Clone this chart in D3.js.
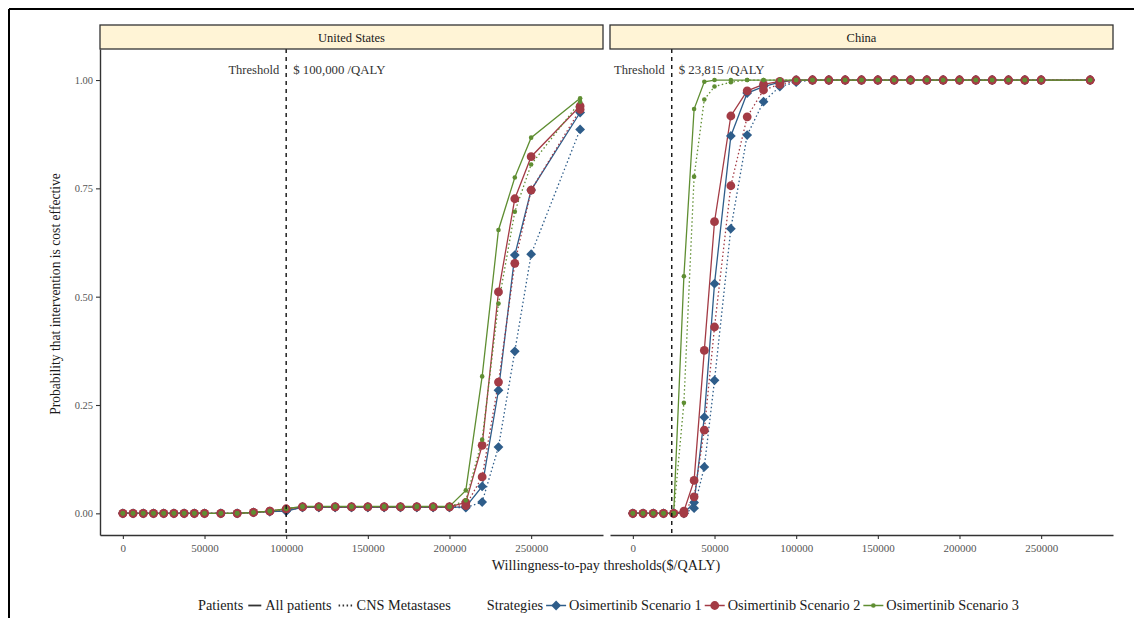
<!DOCTYPE html>
<html>
<head>
<meta charset="utf-8">
<script src="https://cdn.jsdelivr.net/npm/d3@7"></script>
<style>
body { margin: 0; background: #fff; }
svg { display: block; }
text { font-family: "Liberation Serif", "Times New Roman", serif; }
</style>
</head>
<body>
<svg id="chart" width="1134" height="618"></svg>
<script>
// willingness-to-pay grid ($/QALY)
var wtp = [0, 6250, 12500, 18750, 25000, 31250, 37500, 43750, 50000, 60000, 70000, 80000, 90000, 100000,
  110000, 120000, 130000, 140000, 150000, 160000, 170000, 180000, 190000, 200000,
  210000, 220000, 230000, 240000, 250000, 280000];
var xTicks = [0, 50000, 100000, 150000, 200000, 250000];
var yTicks = [0, 0.25, 0.5, 0.75, 1];

var countries = ["United States", "China"];
var thresholds = [100000, 23815];
var thresholdLabels = ["$ 100,000 /QALY", "$ 23,815 /QALY"];
var strategies = ["Osimertinib Scenario 1", "Osimertinib Scenario 2", "Osimertinib Scenario 3"];
var patients = ["All patients", "CNS Metastases"];

// United States
var usS1All = [0,0,0,0,0,0,0,0,0,0,0,0.002,0.004,0.005,0.014,0.014,0.014,0.014,0.014,0.014,0.014,0.014,0.014,0.014,0.015,0.062,0.284,0.596,0.746,0.925];
var usS1Cns = [0,0,0,0,0,0,0,0,0,0,0,0.002,0.004,0.006,0.014,0.014,0.014,0.014,0.014,0.014,0.014,0.014,0.014,0.014,0.013,0.026,0.153,0.374,0.598,0.886];
var usS2All = [0,0,0,0,0,0,0,0,0,0,0,0.002,0.005,0.010,0.015,0.015,0.015,0.015,0.015,0.015,0.015,0.015,0.015,0.015,0.025,0.157,0.511,0.726,0.823,0.940];
var usS2Cns = [0,0,0,0,0,0,0,0,0,0,0,0.002,0.005,0.010,0.015,0.015,0.015,0.015,0.015,0.015,0.015,0.015,0.015,0.015,0.018,0.084,0.303,0.577,0.746,0.932];
var usS3All = [0,0,0,0,0,0,0,0,0,0,0,0.002,0.005,0.011,0.016,0.016,0.016,0.016,0.016,0.016,0.016,0.016,0.016,0.016,0.053,0.316,0.654,0.775,0.867,0.958];
var usS3Cns = [0,0,0,0,0,0,0,0,0,0,0,0.002,0.005,0.010,0.015,0.015,0.015,0.015,0.015,0.015,0.015,0.015,0.015,0.015,0.030,0.170,0.484,0.696,0.805,0.950];

// China
var cnS1All = [0,0,0,0,0,0,0.025,0.222,0.530,0.871,0.970,0.985,0.995,1,1,1,1,1,1,1,1,1,1,1,1,1,1,1,1,1];
var cnS1Cns = [0,0,0,0,0,0,0.012,0.107,0.307,0.657,0.873,0.950,0.985,0.995,1,1,1,1,1,1,1,1,1,1,1,1,1,1,1,1];
var cnS2All = [0,0,0,0,0,0.005,0.076,0.376,0.673,0.917,0.975,0.990,0.997,1,1,1,1,1,1,1,1,1,1,1,1,1,1,1,1,1];
var cnS2Cns = [0,0,0,0,0,0,0.038,0.192,0.430,0.756,0.915,0.977,0.990,0.998,1,1,1,1,1,1,1,1,1,1,1,1,1,1,1,1];
var cnS3All = [0,0,0,0,0,0.547,0.933,0.996,1,1,1,1,1,1,1,1,1,1,1,1,1,1,1,1,1,1,1,1,1,1];
var cnS3Cns = [0,0,0,0,0,0.255,0.777,0.955,0.985,0.995,1,1,1,1,1,1,1,1,1,1,1,1,1,1,1,1,1,1,1,1];

var seriesByCountry = [
  [[usS1All, usS1Cns], [usS2All, usS2Cns], [usS3All, usS3Cns]],
  [[cnS1All, cnS1Cns], [cnS2All, cnS2Cns], [cnS3All, cnS3Cns]]
];

var colors = ["#2E5D8A", "#A33B45", "#5F8E32"];
var dashes = [null, "1.5,2.5"];

var svg = d3.select("#chart");
var panelLeft = [100, 610], panelW = 503;
var stripTop = 25, panelTop = 49, panelBottom = 535;

// outer frame (only top and left visible)
svg.append("line").attr("x1", 9).attr("x2", 1134).attr("y1", 9).attr("y2", 9)
  .attr("stroke", "#000").attr("stroke-width", 2);
svg.append("line").attr("x1", 9).attr("x2", 9).attr("y1", 9).attr("y2", 618)
  .attr("stroke", "#000").attr("stroke-width", 2);

var x = d3.scaleLinear().domain([-14000, 294000]).range([0, panelW]);
var y = d3.scaleLinear().domain([-0.05, 1.0716]).range([panelBottom - panelTop, 0]);

function diamond(r) {
  return "M0," + (-r) + "L" + r + ",0L0," + r + "L" + (-r) + ",0Z";
}
function drawMarker(g, si) {
  if (si === 0) {
    g.append("path").attr("d", diamond(4.9)).attr("fill", colors[0]);
  } else if (si === 1) {
    g.append("circle").attr("r", 4.4).attr("fill", colors[1]);
  } else {
    g.append("circle").attr("r", 2.3).attr("fill", colors[2]);
  }
}

var line = d3.line().x(function (d) { return x(d[0]); }).y(function (d) { return y(d[1]); });

countries.forEach(function (country, ci) {
  var g = svg.append("g").attr("transform", "translate(" + panelLeft[ci] + "," + panelTop + ")");

  // strip
  svg.append("rect").attr("x", panelLeft[ci]).attr("y", stripTop)
    .attr("width", panelW).attr("height", panelTop - stripTop)
    .attr("fill", "#FFF4D6").attr("stroke", "#333").attr("stroke-width", 1.3);
  svg.append("text").attr("x", panelLeft[ci] + panelW / 2).attr("y", 42)
    .attr("text-anchor", "middle").attr("font-size", 12.5).attr("fill", "#1a1a1a")
    .text(country);

  // x axis
  var xa = g.append("g").attr("transform", "translate(0," + (panelBottom - panelTop) + ")")
    .call(d3.axisBottom(x).tickValues(xTicks).tickFormat(d3.format("d")).tickSize(4).tickSizeOuter(0));
  xa.select(".domain").attr("stroke", "#333").attr("stroke-width", 1.4);
  xa.selectAll(".tick line").attr("stroke", "#333").attr("stroke-width", 1.1);
  xa.selectAll(".tick text").attr("font-family", "Liberation Serif, serif").attr("font-size", 11)
    .attr("fill", "#555").attr("dy", "0.95em");

  if (ci === 0) {
    var ya = g.append("g")
      .call(d3.axisLeft(y).tickValues(yTicks).tickFormat(d3.format(".2f")).tickSize(4).tickSizeOuter(0));
    ya.select(".domain").attr("stroke", "#333").attr("stroke-width", 1.4);
    ya.selectAll(".tick line").attr("stroke", "#333").attr("stroke-width", 1.1);
    ya.selectAll(".tick text").attr("font-family", "Liberation Serif, serif").attr("font-size", 10.5)
      .attr("fill", "#555");
  }

  // lines
  seriesByCountry[ci].forEach(function (pair, si) {
    pair.forEach(function (vals, pi) {
      var pts = wtp.map(function (w, i) { return [w, vals[i]]; });
      g.append("path").datum(pts).attr("d", line)
        .attr("fill", "none").attr("stroke", colors[si]).attr("stroke-width", 1.3)
        .attr("stroke-dasharray", dashes[pi]);
    });
  });
  // points
  seriesByCountry[ci].forEach(function (pair, si) {
    pair.forEach(function (vals) {
      wtp.forEach(function (w, i) {
        var m = g.append("g").attr("transform", "translate(" + x(w) + "," + y(vals[i]) + ")");
        drawMarker(m, si);
      });
    });
  });

  // threshold
  var tx = x(thresholds[ci]);
  g.append("line").attr("x1", tx).attr("x2", tx).attr("y1", 0).attr("y2", panelBottom - panelTop)
    .attr("stroke", "#111").attr("stroke-width", 1.4).attr("stroke-dasharray", "4,4");
  g.append("text").attr("x", tx - 7).attr("y", 25).attr("text-anchor", "end")
    .attr("font-size", 12.5).attr("fill", "#333").text("Threshold");
  g.append("text").attr("x", tx + 7).attr("y", 25).attr("text-anchor", "start")
    .attr("font-size", 12.8).attr("fill", "#333").text(thresholdLabels[ci]);
});

// axis titles
svg.append("text").attr("x", 606).attr("y", 570).attr("text-anchor", "middle")
  .attr("font-size", 14.2).attr("fill", "#1a1a1a").text("Willingness-to-pay thresholds($/QALY)");
svg.append("text").attr("transform", "translate(60," + 294 + ") rotate(-90)")
  .attr("text-anchor", "middle").attr("font-size", 13.6).attr("fill", "#1a1a1a")
  .text("Probability that intervention is cost effective");

// legend
var leg = svg.append("g");
var ly = 610, cx = 198;
function legText(s) {
  var t = leg.append("text").attr("x", cx).attr("y", ly).attr("font-size", 14.3)
    .attr("fill", "#1a1a1a").text(s);
  cx += t.node().getComputedTextLength();
}
legText("Patients");
cx += 5;
leg.append("line").attr("x1", cx).attr("x2", cx + 13).attr("y1", ly - 4.5).attr("y2", ly - 4.5)
  .attr("stroke", "#333").attr("stroke-width", 1.8);
cx += 17;
legText(patients[0]);
cx += 7;
leg.append("line").attr("x1", cx).attr("x2", cx + 14).attr("y1", ly - 4.5).attr("y2", ly - 4.5)
  .attr("stroke", "#333").attr("stroke-width", 1.8).attr("stroke-dasharray", dashes[1]);
cx += 18;
legText(patients[1]);
cx += 36;
legText("Strategies");
strategies.forEach(function (s, si) {
  cx += 3;
  leg.append("line").attr("x1", cx).attr("x2", cx + 20).attr("y1", ly - 4.5).attr("y2", ly - 4.5)
    .attr("stroke", colors[si]).attr("stroke-width", 1.5);
  drawMarker(leg.append("g").attr("transform", "translate(" + (cx + 10) + "," + (ly - 4.5) + ")"), si);
  cx += 23;
  legText(s);
});
</script>
</body>
</html>
